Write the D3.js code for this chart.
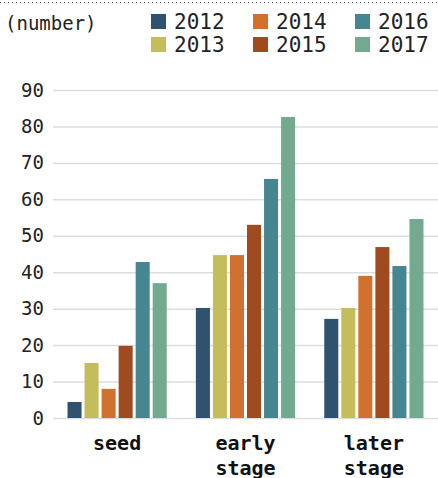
<!DOCTYPE html>
<html>
<head>
<meta charset="utf-8">
<script src="https://cdn.jsdelivr.net/npm/d3@7.9.0/dist/d3.min.js"></script>
<style>
  body { margin: 0; background: #fff; }
  svg { display: block; font-family: "DejaVu Sans Mono", monospace; }
</style>
</head>
<body>
<svg id="chart" width="438" height="478"></svg>
<script>
const stages = ["seed", "early stage", "later stage"];
const years = ["2012", "2013", "2014", "2015", "2016", "2017"];
const values2012 = [4.4, 30.2, 27.2];
const values2013 = [15.1, 44.7, 30.2];
const values2014 = [8.0, 44.7, 39.0];
const values2015 = [19.8, 53.0, 46.9];
const values2016 = [42.8, 65.6, 41.7];
const values2017 = [37.0, 82.6, 54.6];
const yTicks = [0, 10, 20, 30, 40, 50, 60, 70, 80, 90];
const colorList = ["#2f526e", "#c4bd5c", "#d0712f", "#a04a20", "#468690", "#72a98f"];

const seriesValues = [values2012, values2013, values2014, values2015, values2016, values2017];

const svg = d3.select("#chart");
const plotLeft = 53, plotRight = 438, plotTop = 90, plotBottom = 418;

// dotted rule at the very top
svg.append("line")
  .attr("x1", 0).attr("x2", 438)
  .attr("y1", 2.5).attr("y2", 2.5)
  .attr("stroke", "#555")
  .attr("stroke-width", 1)
  .attr("stroke-dasharray", "1,3");

svg.append("text")
  .attr("x", 5).attr("y", 30)
  .attr("font-size", 19)
  .attr("fill", "#222")
  .text("(number)");

const color = d3.scaleOrdinal().domain(years).range(colorList);

// legend, 3 columns x 2 rows
const legend = svg.append("g");
years.forEach((yr, i) => {
  const col = Math.floor(i / 2), row = i % 2;
  const g = legend.append("g")
    .attr("transform", `translate(${151 + col * 102},${14 + row * 23})`);
  g.append("rect").attr("width", 15).attr("height", 15).attr("fill", color(yr));
  g.append("text")
    .attr("x", 23).attr("y", 15)
    .attr("font-size", 21)
    .attr("fill", "#222")
    .text(yr);
});

const y = d3.scaleLinear().domain([0, 90]).range([plotBottom, plotTop]);

const x0 = d3.scaleBand().domain(stages).range([plotLeft, plotRight])
  .paddingInner(0.227).paddingOuter(0.113);
const x1 = d3.scaleBand().domain(years).range([0, x0.bandwidth()])
  .paddingInner(0.176).paddingOuter(0);

// grid
const yAxis = d3.axisLeft(y).tickValues(yTicks).tickSize(-(plotRight - plotLeft)).tickPadding(9);
const ga = svg.append("g")
  .attr("transform", `translate(${plotLeft},0)`)
  .call(yAxis);
ga.select(".domain").remove();
ga.selectAll(".tick line").attr("stroke", "#dddddd").attr("stroke-width", 1.5);
ga.selectAll(".tick text")
  .attr("font-family", "DejaVu Sans Mono, monospace")
  .attr("font-size", 19)
  .attr("fill", "#222");

// bars
const rows = stages.map((s, si) => ({ stage: s, vals: years.map((yr, yi) => ({ year: yr, value: seriesValues[yi][si] })) }));
svg.append("g").selectAll("g")
  .data(rows)
  .join("g")
  .attr("transform", d => `translate(${x0(d.stage)},0)`)
  .selectAll("rect")
  .data(d => d.vals)
  .join("rect")
  .attr("x", d => x1(d.year))
  .attr("width", x1.bandwidth())
  .attr("y", d => y(d.value))
  .attr("height", d => y(0) - y(d.value))
  .attr("fill", d => color(d.year));

// category labels
const xa = svg.append("g");
stages.forEach(s => {
  const t = xa.append("text")
    .attr("x", x0(s) + x0.bandwidth() / 2)
    .attr("y", 450)
    .attr("text-anchor", "middle")
    .attr("font-size", 20)
    .attr("font-weight", "bold")
    .attr("fill", "#111");
  s.split(" ").forEach((w, i) => {
    t.append("tspan")
      .attr("x", x0(s) + x0.bandwidth() / 2)
      .attr("dy", i === 0 ? 0 : 25)
      .text(w);
  });
});
</script>
</body>
</html>
